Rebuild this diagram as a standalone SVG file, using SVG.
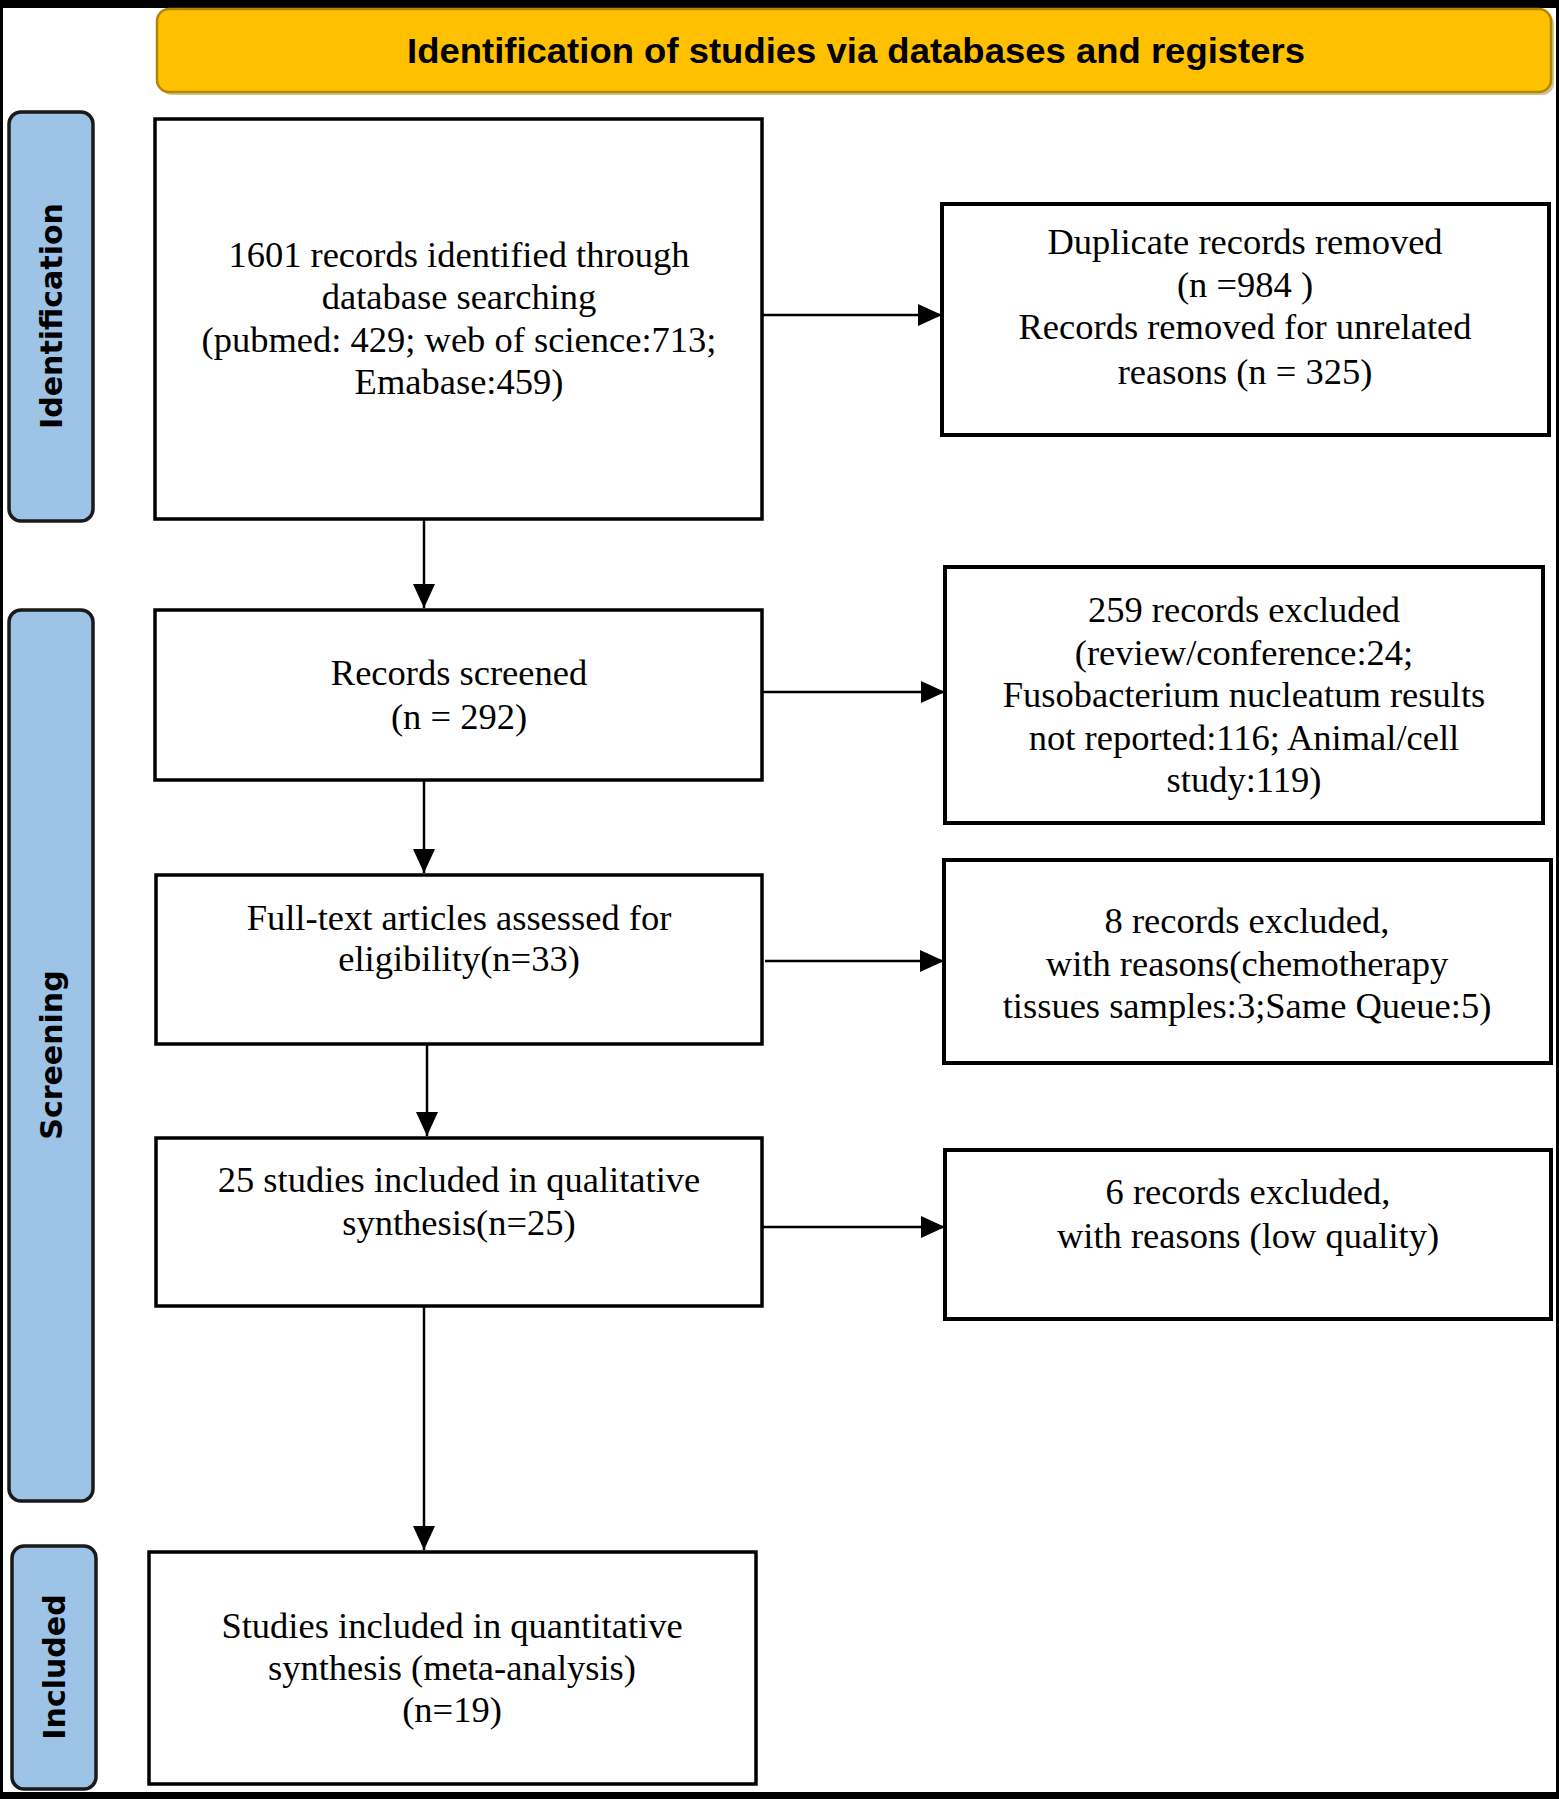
<svg xmlns="http://www.w3.org/2000/svg" width="1559" height="1799" viewBox="0 0 1559 1799">
<defs>
<style>
.box{fill:#fff;stroke:#000;stroke-width:3.5}
.rbox{fill:#fff;stroke:#000;stroke-width:4}
.side{fill:#9DC3E6;stroke:#1a1a1a;stroke-width:3.5}
.t{font-family:"Liberation Serif","Times New Roman",serif;font-size:36.5px;fill:#000;text-anchor:middle}
.s{font-family:"DejaVu Sans",Verdana,sans-serif;font-weight:bold;font-size:30px;fill:#000;text-anchor:middle}
.h{font-family:"Liberation Sans",Arial,sans-serif;font-weight:bold;font-size:35px;fill:#000;text-anchor:middle}
.c{stroke:#000;stroke-width:2.5;fill:none}
</style>
<marker id="ah" viewBox="0 0 10 10" refX="10" refY="5" markerWidth="10" markerHeight="10" markerUnits="userSpaceOnUse" orient="auto">
<path d="M0,0 L10,5 L0,10 Z" fill="#000"/>
</marker>
<marker id="a" viewBox="0 0 24 22" refX="24" refY="11" markerWidth="24" markerHeight="22" markerUnits="userSpaceOnUse" orient="auto">
<path d="M0,0 L24,11 L0,22 Z" fill="#000"/>
</marker>
</defs>
<rect x="0" y="0" width="1559" height="1799" fill="#fff"/>
<g id="frame">
<rect x="0" y="0" width="1559" height="8" fill="#000"/>
<rect x="0" y="1792" width="1559" height="7" fill="#000"/>
<rect x="0" y="0" width="3" height="1799" fill="#000"/>
<rect x="1556" y="0" width="3" height="1799" fill="#000"/>
</g>
<g id="header">
<rect x="160" y="12" width="1394" height="83" rx="12" fill="#9a7a10" opacity="0.45"/>
<rect x="157" y="9" width="1394" height="83" rx="12" fill="#FFC000" stroke="#B38600" stroke-width="2.5"/>
<text class="h" x="856" y="63" textLength="898" lengthAdjust="spacingAndGlyphs">Identification of studies via databases and registers</text>
</g>
<g id="side-identification">
<rect x="9" y="112" width="84" height="409" rx="12" class="side"/>
<text class="s" transform="translate(62,316) rotate(-90)">Identification</text>
</g>
<g id="side-screening">
<rect x="9" y="610" width="84" height="891" rx="12" class="side"/>
<text class="s" transform="translate(62,1055) rotate(-90)">Screening</text>
</g>
<g id="side-included">
<rect x="12" y="1546" width="84" height="243" rx="12" class="side"/>
<text class="s" transform="translate(65,1667) rotate(-90)">Included</text>
</g>
<g id="connectors">
<line class="c" x1="762" y1="315" x2="942" y2="315" marker-end="url(#a)"/>
<line class="c" x1="424" y1="519" x2="424" y2="608" marker-end="url(#a)"/>
<line class="c" x1="762" y1="692" x2="945" y2="692" marker-end="url(#a)"/>
<line class="c" x1="424" y1="780" x2="424" y2="873" marker-end="url(#a)"/>
<line class="c" x1="765" y1="961" x2="944" y2="961" marker-end="url(#a)"/>
<line class="c" x1="427" y1="1044" x2="427" y2="1136" marker-end="url(#a)"/>
<line class="c" x1="762" y1="1227" x2="945" y2="1227" marker-end="url(#a)"/>
<line class="c" x1="424" y1="1306" x2="424" y2="1550" marker-end="url(#a)"/>
</g>
<g id="node-identified">
<rect class="box" x="155" y="119" width="607" height="400"/>
<text class="t" x="459" y="267">1601 records identified through</text>
<text class="t" x="459" y="309">database searching</text>
<text class="t" x="459" y="352">(pubmed: 429; web of science:713;</text>
<text class="t" x="459" y="394">Emabase:459)</text>
</g>
<g id="node-removed">
<rect class="rbox" x="942" y="204" width="607" height="231"/>
<text class="t" x="1245" y="254">Duplicate records removed</text>
<text class="t" x="1245" y="297">(n =984 )</text>
<text class="t" x="1245" y="339">Records removed for unrelated</text>
<text class="t" x="1245" y="384">reasons (n = 325)</text>
</g>
<g id="node-screened">
<rect class="box" x="155" y="610" width="607" height="170"/>
<text class="t" x="459" y="685">Records screened</text>
<text class="t" x="459" y="729">(n = 292)</text>
</g>
<g id="node-excluded259">
<rect class="rbox" x="945" y="567" width="598" height="256"/>
<text class="t" x="1244" y="622">259 records excluded</text>
<text class="t" x="1244" y="665">(review/conference:24;</text>
<text class="t" x="1244" y="707">Fusobacterium nucleatum results</text>
<text class="t" x="1244" y="750">not reported:116; Animal/cell</text>
<text class="t" x="1244" y="792">study:119)</text>
</g>
<g id="node-fulltext">
<rect class="box" x="156" y="875" width="606" height="169"/>
<text class="t" x="459" y="930">Full-text articles assessed for</text>
<text class="t" x="459" y="971">eligibility(n=33)</text>
</g>
<g id="node-excluded8">
<rect class="rbox" x="944" y="860" width="607" height="203"/>
<text class="t" x="1247" y="933">8 records excluded,</text>
<text class="t" x="1247" y="976">with reasons(chemotherapy</text>
<text class="t" x="1247" y="1018">tissues samples:3;Same Queue:5)</text>
</g>
<g id="node-qualitative">
<rect class="box" x="156" y="1138" width="606" height="168"/>
<text class="t" x="459" y="1192">25 studies included in qualitative</text>
<text class="t" x="459" y="1235">synthesis(n=25)</text>
</g>
<g id="node-excluded6">
<rect class="rbox" x="945" y="1150" width="606" height="169"/>
<text class="t" x="1248" y="1204">6 records excluded,</text>
<text class="t" x="1248" y="1248">with reasons (low quality)</text>
</g>
<g id="node-quantitative">
<rect class="box" x="149" y="1552" width="607" height="232"/>
<text class="t" x="452" y="1638">Studies included in quantitative</text>
<text class="t" x="452" y="1680">synthesis (meta-analysis)</text>
<text class="t" x="452" y="1722">(n=19)</text>
</g>
</svg>
